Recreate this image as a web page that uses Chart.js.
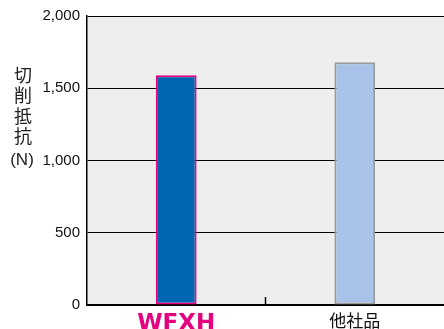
<!DOCTYPE html>
<html>
<head>
<meta charset="utf-8">
<script src="https://cdn.jsdelivr.net/npm/chart.js@4/dist/chart.umd.min.js"></script>
<style>
  html, body { margin: 0; padding: 0; background: #fff; }
  #wrap { width: 444px; height: 329px; }
</style>
</head>
<body>
<div id="wrap"><canvas id="myChart"></canvas></div>
<script>
var categories = ["WFXH", "他社品"];
var values = [1590, 1680];
var yTicks = [0, 500, 1000, 1500, 2000];
var titleChars = ["切", "削", "抵", "抗"];

var barColors = ["#0066b3", "#a9c3e8"];
var barBorders = ["#e6007e", "#9a9a9a"];

// plot background, the small tick between categories, stacked axis title
var extras = {
  id: "extras",
  beforeDraw: function (chart) {
    var ctx = chart.ctx, a = chart.chartArea;
    ctx.save();
    ctx.fillStyle = "#eeeeee";
    ctx.fillRect(a.left, a.top, a.right - a.left, a.bottom - a.top);
    ctx.restore();
  },
  afterDraw: function (chart) {
    var ctx = chart.ctx, a = chart.chartArea, x = chart.scales.x;
    ctx.save();
    var mid = (x.getPixelForValue(0) + x.getPixelForValue(1)) / 2;
    ctx.strokeStyle = "#000";
    ctx.lineWidth = 1.5;
    ctx.beginPath();
    ctx.moveTo(mid, a.bottom);
    ctx.lineTo(mid, a.bottom - 8);
    ctx.stroke();

    ctx.fillStyle = "#222";
    ctx.textAlign = "center";
    ctx.textBaseline = "middle";
    ctx.font = "18px 'Noto Sans CJK JP'";
    titleChars.forEach(function (c, i) {
      ctx.fillText(c, 23, 75 + i * 20.5);
    });
    ctx.font = "17px 'Liberation Sans'";
    ctx.fillText("(N)", 22, 160);
    ctx.restore();
  }
};

new Chart("myChart", {
  type: "bar",
  data: {
    labels: categories,
    datasets: [{
      data: values,
      backgroundColor: barColors,
      borderColor: barBorders,
      borderWidth: 2,
      borderSkipped: false,
      categoryPercentage: 1,
      barPercentage: 0.228
    }]
  },
  options: {
    responsive: true,
    maintainAspectRatio: false,
    animation: false,
    layout: { padding: { top: 16, left: 0, right: 0, bottom: 0 } },
    plugins: {
      legend: { display: false },
      tooltip: { enabled: false }
    },
    scales: {
      x: {
        grid: { display: false, drawTicks: false },
        border: { color: "#000", width: 1.5 },
        ticks: {
          padding: 5,
          color: function (c) { return c.index === 0 ? "#e4007f" : "#111"; },
          font: function (c) {
            return c.index === 0
              ? { family: "'DejaVu Sans'", size: 23, weight: "bold" }
              : { family: "'Noto Sans CJK JP'", size: 17 };
          }
        },
        afterFit: function (s) { s.height = 24; }
      },
      y: {
        min: 0,
        max: 2000,
        afterBuildTicks: function (s) {
          s.ticks = yTicks.map(function (v) { return { value: v }; });
        },
        grid: { color: "#000", lineWidth: 1, drawTicks: false },
        border: { color: "#000", width: 1.5 },
        ticks: {
          padding: 7,
          color: "#111",
          font: { family: "'Liberation Sans'", size: 15 },
          callback: function (v) { return v.toLocaleString("en-US"); }
        },
        afterFit: function (s) { s.width = 87; }
      }
    }
  },
  plugins: [extras]
});
</script>
</body>
</html>
